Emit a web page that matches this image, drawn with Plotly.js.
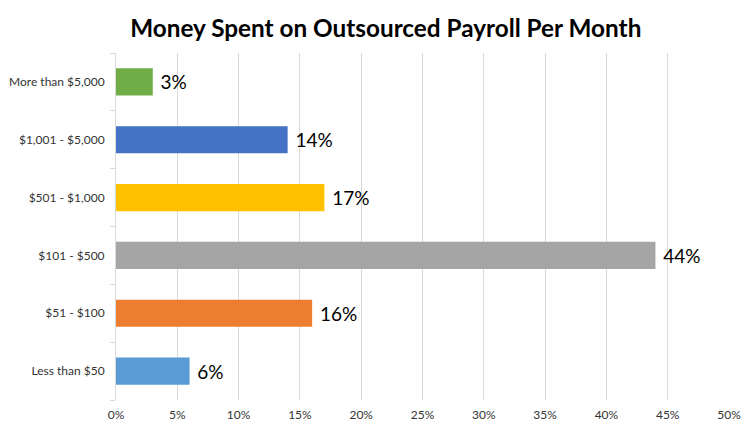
<!DOCTYPE html>
<html>
<head>
<meta charset="utf-8">
<script src="https://cdn.plot.ly/plotly-3.0.1.min.js"></script>
<style>html,body{margin:0;padding:0;background:#fff;}#chart{width:752px;height:431px;}</style>
</head>
<body>
<div id="chart"></div>
<script>
const categories = ["Less than $50", "$51 - $100", "$101 - $500", "$501 - $1,000", "$1,001 - $5,000", "More than $5,000"];
const values = [6, 16, 44, 17, 14, 3];
const colors = ["#5B9BD5", "#ED7D31", "#A5A5A5", "#FFC000", "#4472C4", "#70AD47"];
const xTicks = [0, 5, 10, 15, 20, 25, 30, 35, 40, 45, 50];

const font = "Lato, 'Open Sans', sans-serif";

const trace = {
  type: "bar",
  orientation: "h",
  y: categories,
  x: values,
  marker: {color: colors},
  text: values.map(v => "\u2005" + v + "%"),
  textposition: "outside",
  textfont: {family: font, size: 19, color: "#000"},
  cliponaxis: false,
  hoverinfo: "none"
};

const layout = {
  width: 752, height: 431,
  margin: {l: 115.5, r: 23, t: 53, b: 31},
  paper_bgcolor: "#fff", plot_bgcolor: "#fff",
  showlegend: false,
  bargap: 0.53,
  title: {text: "<b>Money Spent on Outsourced Payroll Per Month</b>", font: {family: font, size: 24.3, color: "#000"}, x: 0.513, xanchor: "center", y: 0.935, yanchor: "middle"},
  xaxis: {
    range: [0, 50], tickvals: xTicks, ticktext: xTicks.map(v => v + "%"),
    showgrid: true, gridcolor: "#d9d9d9", gridwidth: 1, zeroline: false, showline: false,
    ticks: "", tickfont: {family: font, size: 12, color: "#333"}, ticklabelstandoff: 6,
    fixedrange: true
  },
  yaxis: {
    type: "category", showline: true, linecolor: "#d9d9d9", linewidth: 1,
    ticks: "outside", tickson: "boundaries", ticklen: 5, tickcolor: "#d9d9d9",
    tickfont: {family: font, size: 12, color: "#333"}, showgrid: false,
    ticklabelstandoff: 8, fixedrange: true
  }
};

Plotly.newPlot("chart", [trace], layout, {displayModeBar: false, staticPlot: true});
</script>
</body>
</html>
